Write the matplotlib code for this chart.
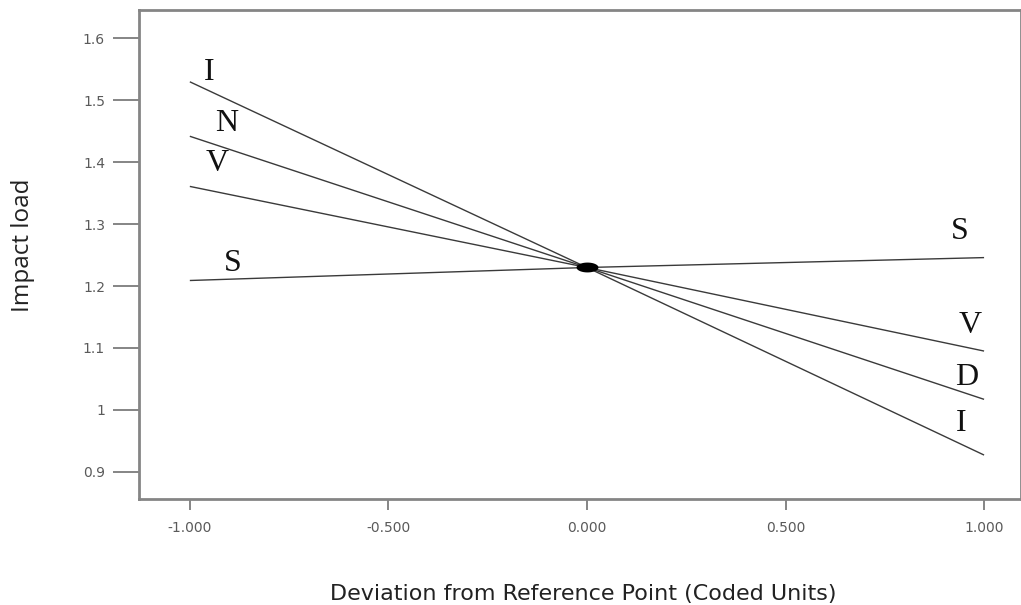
import matplotlib
matplotlib.use("Agg")
import numpy as np
import matplotlib.pyplot as plt

# Data
x_coded = [-1.0, 0.0, 1.0]
line_I = [1.530, 1.230, 0.927]
line_ND = [1.442, 1.230, 1.017]
line_V = [1.361, 1.230, 1.095]
line_S = [1.209, 1.230, 1.246]
ref_point = (0.0, 1.230)

x_ticks = [-1.0, -0.5, 0.0, 0.5, 1.0]
x_ticklabels = ["-1.000", "-0.500", "0.000", "0.500", "1.000"]
y_ticks = [0.9, 1.0, 1.1, 1.2, 1.3, 1.4, 1.5, 1.6]
y_ticklabels = ["0.9", "1", "1.1", "1.2", "1.3", "1.4", "1.5", "1.6"]

left_labels = [("I", -0.950, 1.545), ("N", -0.907, 1.463), ("V", -0.932, 1.398), ("S", -0.892, 1.237)]
right_labels = [("S", 0.940, 1.288), ("V", 0.965, 1.136), ("D", 0.957, 1.052), ("I", 0.942, 0.978)]

W, H = 1021, 605
fig = plt.figure(figsize=(W / 100, H / 100), dpi=100)
ax = fig.add_axes([139 / W, 1 - 499 / H, (1021 - 139) / W, (499 - 10) / H])

line_color = "#3a3a3a"
for ys in (line_I, line_ND, line_V, line_S):
    ax.plot(x_coded, ys, color=line_color, lw=1.0, solid_capstyle="butt")

t = np.linspace(0, 2 * np.pi, 40)
ellipse = np.column_stack([np.cos(t), 0.45 * np.sin(t)])
ax.scatter([ref_point[0]], [ref_point[1]], s=250, color="black", marker=ellipse, zorder=5,
           linewidths=0)

ax.set_xlim(-1.128, 1.093)
ax.set_ylim(0.856, 1.646)

ax.set_xticks(x_ticks)
ax.set_xticklabels(x_ticklabels)
ax.set_yticks(y_ticks)
ax.set_yticklabels(y_ticklabels)

spine_color = "#858585"
for s in ax.spines.values():
    s.set_color(spine_color)
    s.set_linewidth(2.0)

ax.tick_params(axis="y", direction="out", length=18.7, width=1.4, color=spine_color,
               labelsize=10, labelcolor="#5a5a5a", pad=5.8)
ax.tick_params(axis="x", direction="out", length=8, width=1.4, color=spine_color,
               labelsize=10, labelcolor="#5a5a5a", pad=8)

for lab in ax.get_xticklabels() + ax.get_yticklabels():
    lab.set_fontfamily("DejaVu Sans")

for txt, xx, yy in left_labels + right_labels:
    ax.text(xx, yy, txt, fontsize=23, family="Liberation Serif", ha="center", va="center",
            color="#111111")

ax.set_xlabel("Deviation from Reference Point (Coded Units)", fontsize=16,
              family="DejaVu Sans", color="#222222")
ax.xaxis.set_label_coords((583 - 139) / 882, (499 - 594) / 489)
ax.xaxis.label.set_va("center")
ax.set_ylabel("Impact load", fontsize=17.5, family="Open Sans", color="#222222")
ax.yaxis.set_label_coords((23 - 139) / 882, (499 - 245) / 489)
ax.yaxis.label.set_va("center")

fig.savefig("out.png", dpi=100)
